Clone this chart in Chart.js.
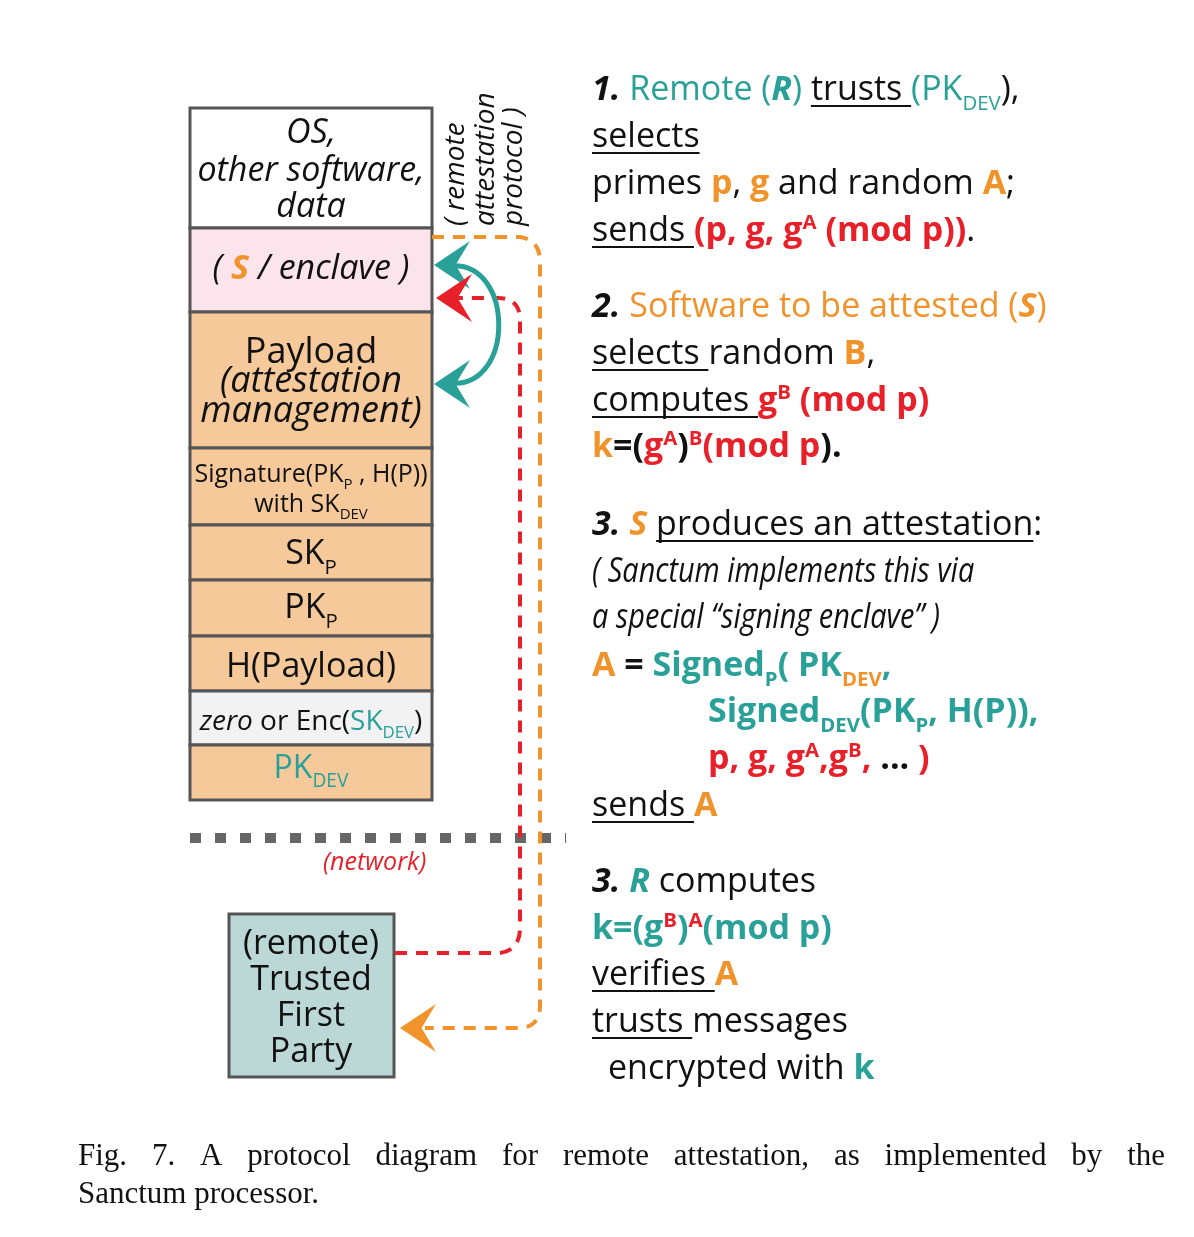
<!DOCTYPE html>
<html><head><meta charset="utf-8">
<script src="https://cdn.jsdelivr.net/npm/chart.js@4.4.1/dist/chart.umd.min.js"></script>
<style>html,body{margin:0;padding:0;background:#fff}#wrap{width:1194px;height:1237px}</style>
</head><body><div id="wrap"><canvas id="c"></canvas></div>
<script>
const TEAL = "#2aa198", ORANGE = "#f0932b", RED = "#e8202a";
const F = '"Open Sans", Lato, sans-serif';

// stack of memory boxes (edges in figure units, top to bottom)
const stackEdges = [108, 228, 312, 448, 525, 580, 636, 691, 745, 800];
const stackFills = ["#ffffff", "#fce4ec", "#f6c99b", "#f6c99b", "#f6c99b", "#f6c99b", "#f6c99b", "#f2f2f2", "#f6c99b"];
const remoteBox = [229, 914, 394, 1077];

// right-hand protocol text: [x, y, runs]; run = [text, flags]
const steps = [
  [592, 100, [["1.", "bi"], [" Remote (", "t"], ["R", "tbi"], [")", "t"], [" "], ["trusts ", "u"], ["(PK", "t"], ["DEV", "t_"], ["),"]]],
  [592, 147, [["selects", "u"]]],
  [592, 194, [["primes "], ["p", "ob"], [", "], ["g", "ob"], [" and random "], ["A", "ob"], [";"]]],
  [592, 241, [["sends ", "u"], ["(p, g, g", "rb"], ["A", "rb^"], [" (mod p))", "rb"], ["."]]],
  [592, 317, [["2.", "bi"], [" Software to be attested (", "o"], ["S", "obi"], [")", "o"]]],
  [592, 364, [["selects ", "u"], ["random "], ["B", "ob"], [","]]],
  [592, 411, [["computes ", "u"], ["g", "rb"], ["B", "rb^"], [" (mod p)", "rb"]]],
  [592, 457, [["k", "ob"], ["=(", "b"], ["g", "rb"], ["A", "rb^"], [")", "b"], ["B", "rb^"], ["(mod p", "rb"], [").", "b"]]],
  [592, 535, [["3.", "bi"], [" "], ["S", "obi"], [" "], ["produces an attestation", "u"], [":"]]],
  [592, 582, [["( Sanctum implements this via", "ic"]]],
  [592, 628, [["a special “signing enclave” )", "ic"]]],
  [592, 676, [["A", "ob"], [" = ", "b"], ["Signed", "tb"], ["P", "tb_"], ["( PK", "tb"], ["DEV", "ob_"], [",", "tb"]]],
  [708, 722, [["Signed", "tb"], ["DEV", "tb_"], ["(PK", "tb"], ["P", "tb_"], [", H(P)),", "tb"]]],
  [708, 769, [["p, g, g", "rb"], ["A", "rb^"], [",g", "rb"], ["B", "rb^"], [", ", "rb"], ["...", "b"], [" )", "rb"]]],
  [592, 816, [["sends ", "u"], ["A", "ob"]]],
  [592, 892, [["3.", "bi"], [" "], ["R", "tbi"], [" computes"]]],
  [592, 939, [["k=(g", "tb"], ["B", "rb^"], [")", "tb"], ["A", "rb^"], ["(mod p)", "tb"]]],
  [592, 985, [["verifies ", "u"], ["A", "ob"]]],
  [592, 1032, [["trusts ", "u"], ["messages"]]],
  [608, 1079, [["encrypted with "], ["k", "tb"]]]
];

// labels inside the boxes: [cx, y, runs, size]
const boxTexts = [
  [311, 143, [["OS,", "i"]], 34], [311, 181, [["other software,", "i"]], 34], [311, 217, [["data", "i"]], 34],
  [311, 279, [["( ", "i"], ["S", "obi"], [" / enclave )", "i"]], 34],
  [311, 363, [["Payload"]], 36], [311, 392, [["(attestation", "i"]], 36], [311, 422, [["management)", "i"]], 36],
  [311, 482, [["Signature(PK"], ["P", "_"], [" , H(P))"]], 25], [311, 512, [["with SK"], ["DEV", "_"]], 25],
  [311, 564, [["SK"], ["P", "_"]], 34], [311, 618, [["PK"], ["P", "_"]], 34],
  [311, 677, [["H(Payload)"]], 34],
  [311, 730, [["zero", "i"], [" or Enc("], ["SK", "t"], ["DEV", "t_"], [")"]], 28],
  [311, 778, [["PK", "t"], ["DEV", "t_"]], 32],
  [311, 954, [["(remote)"]], 34], [311, 990, [["Trusted"]], 34], [311, 1026, [["First"]], 34], [311, 1062, [["Party"]], 34]
];

const captionLines = ["Fig. 7.  A protocol diagram for remote attestation, as implemented by the", "Sanctum processor."];

function runFont(f, size) {
  const small = f.includes("_") || f.includes("^");
  const s = small ? size * 0.6 : size;
  return (f.includes("i") ? "italic " : "") + (f.includes("b") ? "bold " : "") + s + "px " + F;
}
function runColor(f) { return f.includes("t") ? TEAL : f.includes("o") ? ORANGE : f.includes("r") ? RED : "#111"; }
function runsWidth(ctx, runs, size) {
  let w = 0;
  runs.forEach(([t, f = ""]) => { ctx.font = runFont(f, size); w += ctx.measureText(t).width * (f.includes("c") ? 0.85 : 1); });
  return w;
}
function drawRuns(ctx, x, y, runs, size) {
  runs.forEach(([t, f = ""]) => {
    ctx.font = runFont(f, size);
    ctx.fillStyle = runColor(f);
    let dy = f.includes("_") ? size * 0.28 : f.includes("^") ? -size * 0.35 : 0;
    const sx = f.includes("c") ? 0.85 : 1;
    const w = ctx.measureText(t).width * sx;
    ctx.save(); ctx.translate(x, y + dy); ctx.scale(sx, 1); ctx.fillText(t, 0, 0); ctx.restore();
    if (f.includes("u")) {
      const tw = ctx.measureText(t.trimEnd()).width;
      ctx.fillRect(x, y + 5, t.endsWith(" ") ? w : tw, 2);
    }
    x += w;
  });
}

const diagram = {
  id: "diagram",
  afterDraw(chart) {
    const ctx = chart.ctx, X = v => chart.scales.x.getPixelForValue(v), Y = v => chart.scales.y.getPixelForValue(v);
    ctx.save();
    ctx.textBaseline = "alphabetic";
    // stack
    ctx.lineWidth = 3; ctx.strokeStyle = "#555";
    for (let i = 0; i < stackFills.length; i++) {
      ctx.fillStyle = stackFills[i];
      ctx.fillRect(X(190), Y(stackEdges[i]), X(432) - X(190), Y(stackEdges[i + 1]) - Y(stackEdges[i]));
      ctx.strokeRect(X(190), Y(stackEdges[i]), X(432) - X(190), Y(stackEdges[i + 1]) - Y(stackEdges[i]));
    }
    ctx.fillStyle = "#bcd8d6";
    ctx.fillRect(X(remoteBox[0]), Y(remoteBox[1]), X(remoteBox[2]) - X(remoteBox[0]), Y(remoteBox[3]) - Y(remoteBox[1]));
    ctx.strokeRect(X(remoteBox[0]), Y(remoteBox[1]), X(remoteBox[2]) - X(remoteBox[0]), Y(remoteBox[3]) - Y(remoteBox[1]));
    // network line
    ctx.strokeStyle = "#666"; ctx.lineWidth = 10; ctx.setLineDash([11, 14]);
    ctx.beginPath(); ctx.moveTo(X(190), Y(838)); ctx.lineTo(X(566), Y(838)); ctx.stroke();
    // orange dashed path
    ctx.strokeStyle = ORANGE; ctx.lineWidth = 4; ctx.setLineDash([12, 9]);
    ctx.beginPath(); ctx.moveTo(X(432), Y(237)); ctx.lineTo(X(520), Y(237));
    ctx.quadraticCurveTo(X(540), Y(240), X(540), Y(262)); ctx.lineTo(X(540), Y(1005));
    ctx.quadraticCurveTo(X(540), Y(1028), X(518), Y(1028)); ctx.lineTo(X(425), Y(1028)); ctx.stroke();
    // red dashed path
    ctx.strokeStyle = RED;
    ctx.beginPath(); ctx.moveTo(X(395), Y(953)); ctx.lineTo(X(500), Y(953));
    ctx.quadraticCurveTo(X(520), Y(950), X(520), Y(928)); ctx.lineTo(X(520), Y(320));
    ctx.quadraticCurveTo(X(520), Y(298), X(498), Y(298)); ctx.lineTo(X(455), Y(298)); ctx.stroke();
    // teal solid loop
    ctx.setLineDash([]); ctx.strokeStyle = TEAL; ctx.lineWidth = 5;
    ctx.beginPath(); ctx.moveTo(X(450), Y(266));
    ctx.bezierCurveTo(X(515), Y(260), X(515), Y(390), X(450), Y(383)); ctx.stroke();
    // arrowheads
    function head(x, y, col, dx) {
      ctx.fillStyle = col; ctx.beginPath();
      ctx.moveTo(X(x), Y(y)); ctx.lineTo(X(x + dx), Y(y - 24));
      ctx.lineTo(X(x + dx * 0.6), Y(y)); ctx.lineTo(X(x + dx), Y(y + 24)); ctx.closePath(); ctx.fill();
    }
    head(434, 265, TEAL, 36); head(434, 384, TEAL, 36); head(436, 298, RED, 36); head(400, 1028, ORANGE, 36);
    // rotated label
    ctx.fillStyle = "#111"; ctx.font = "italic 28px " + F;
    [["( remote", 464], ["attestation", 494], ["protocol )", 522]].forEach(([t, x]) => {
      ctx.save(); ctx.translate(X(x), Y(226)); ctx.rotate(-Math.PI / 2); ctx.fillText(t, 0, 0); ctx.restore();
    });
    ctx.font = "italic 25px " + F; ctx.fillStyle = RED; ctx.fillText("(network)", X(323), Y(870));
    // box labels
    boxTexts.forEach(([cx, y, runs, size]) => drawRuns(ctx, X(cx) - runsWidth(ctx, runs, size) / 2, Y(y), runs, size));
    // protocol steps
    steps.forEach(([x, y, runs]) => drawRuns(ctx, X(x), Y(y), runs, 34));
    // caption
    ctx.fillStyle = "#111"; ctx.font = '31px "Liberation Serif", serif';
    const words = captionLines[0].split(/\s+/);
    const total = words.reduce((s, w) => s + ctx.measureText(w).width, 0);
    const gap = (X(1165) - X(78) - total) / (words.length - 1);
    let x = X(78);
    words.forEach(w => { ctx.fillText(w, x, Y(1165)); x += ctx.measureText(w).width + gap; });
    ctx.fillText(captionLines[1], X(78), Y(1203));
    ctx.restore();
  }
};

new Chart(document.getElementById("c"), {
  type: "scatter",
  data: { datasets: [{ data: [], pointRadius: 0 }] },
  options: {
    responsive: true, maintainAspectRatio: false, animation: false,
    layout: { padding: 0 },
    plugins: { legend: { display: false }, tooltip: { enabled: false } },
    scales: {
      x: { type: "linear", min: 0, max: 1194, display: false },
      y: { type: "linear", min: 0, max: 1237, reverse: true, display: false }
    }
  },
  plugins: [diagram]
});
</script></body></html>
